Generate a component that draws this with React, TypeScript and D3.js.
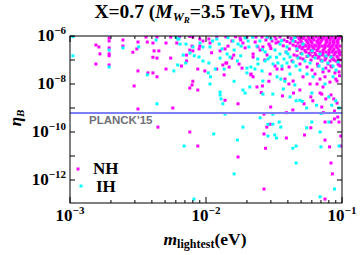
import { useEffect, useRef } from "react";
import * as d3 from "d3";

// [m_lightest (eV), eta_B]
const nhPoints: [number, number][] = [
  [1.94e-3, 8.2e-7], [1.94e-3, 6.2e-7], [1.55e-3, 4.2e-7], [1.63e-3, 3.5e-7], [1.66e-3, 1.8e-7],
  [1.55e-3, 6.8e-8], [1.94e-3, 3.2e-7], [1.94e-3, 1.8e-7], [1.94e-3, 1.5e-7], [1.94e-3, 6.2e-8],
  [2.45e-3, 6.8e-7], [2.45e-3, 3.8e-7], [3.16e-3, 5.6e-7], [3.1e-3, 2.9e-7], [2.9e-3, 2.1e-7],
  [3.62e-3, 9.1e-7], [3.7e-3, 5.6e-7], [4.07e-3, 5.1e-7], [4.36e-3, 9.1e-7], [4.15e-3, 2.4e-7],
  [4.07e-3, 1.3e-7], [4.5e-3, 2.4e-7], [4.36e-3, 1.2e-7], [3.16e-3, 3.5e-8], [3.74e-3, 2.9e-8],
  [4.07e-3, 2.9e-8], [4.36e-3, 2.0e-8], [2.96e-3, 8.3e-9], [3.16e-3, 9.1e-10],
  [5.08e-3, 5.1e-7], [5.5e-3, 1.2e-7], [5.08e-3, 4.2e-8], [6.1e-3, 5.1e-7], [6.6e-3, 5.6e-8],
  [7.2e-3, 1.6e-7], [7.2e-3, 9.1e-8], [7.6e-3, 2.6e-7], [8.0e-3, 1.3e-8], [7.9e-3, 9.1e-9],
  [7.6e-3, 6.8e-9], [8.7e-3, 5.6e-9], [5.7e-3, 1.0e-9], [8.7e-3, 4.2e-8], [9.8e-3, 3.5e-8],
  [8.9e-3, 2.9e-7], [1.33e-2, 6.2e-8], [1.4e-2, 7.5e-8], [1.36e-2, 2.4e-8], [1.48e-2, 5.1e-8],
  [1.38e-2, 2.1e-9], [1.72e-2, 1.5e-9], [1.84e-2, 4.6e-8], [2.14e-2, 2.4e-8], [1.75e-2, 6.8e-8],
  [1.55e-2, 1.2e-7], [1.78e-2, 8.2e-7], [1.8e-2, 6.8e-7], [1.87e-2, 5.1e-7], [1.94e-2, 3.2e-7],
  [1.55e-2, 6.2e-7], [1.45e-2, 3.8e-7], [1.38e-2, 2.9e-7], [1.27e-2, 2.4e-7], [1.07e-2, 5.1e-7],
  [1.05e-2, 7.5e-7], [9.5e-3, 6.2e-7], [9.0e-3, 7.5e-7], [8.0e-3, 9.1e-7], [7.6e-3, 9.6e-7],
  [5.5e-3, 9.1e-7], [6.4e-3, 9.6e-7], [8.0e-3, 2.4e-7], [7.9e-3, 3.8e-7], [9.0e-3, 3.8e-7],
  [1.2e-2, 4.2e-8], [1.42e-2, 7.5e-8],
  [7.6e-3, 1.0e-10], [8.7e-3, 2.6e-11], [4.43e-3, 1.6e-10], [1.72e-2, 9.1e-12],
  [2.67e-2, 8.3e-11], [2.8e-2, 1.6e-10], [2.96e-2, 2.1e-10], [2.74e-2, 2.1e-11], [3.9e-2, 5.6e-11],
  [5.3e-2, 7.5e-11], [5.9e-2, 1.5e-10], [7.5e-2, 2.6e-10], [7.5e-2, 4.6e-11], [8.1e-2, 2.4e-11],
  [8.3e-2, 2.6e-10], [8.8e-2, 3.5e-10], [9.5e-2, 2.6e-10], [9.8e-2, 6.8e-11], [9.8e-2, 2.6e-11],
  [8.3e-2, 5.1e-12], [8.5e-2, 1.8e-12], [2.67e-2, 4.2e-13], [7.5e-2, 1.6e-13],
  [2.37e-2, 7.5e-9], [2.6e-2, 8.3e-9], [2.55e-2, 4.4e-9], [2.9e-2, 1.3e-8], [2.99e-2, 1.1e-9],
  [2.67e-2, 5.6e-10], [3.9e-2, 6.4e-10], [4.35e-2, 8.3e-10], [3.65e-2, 3.2e-9], [4.4e-2, 4.2e-9],
  [4.07e-2, 1.0e-8], [4.9e-2, 5.6e-9], [5.26e-2, 1.5e-9], [5.9e-2, 2.9e-9], [6.1e-2, 2.0e-9],
  [6.9e-2, 4.2e-9], [7.1e-2, 3.8e-9], [7.1e-2, 1.1e-9], [7.3e-2, 6.4e-10], [7.6e-2, 2.4e-9],
  [8.3e-2, 3.5e-9], [8.7e-2, 2.4e-9], [9.2e-2, 1.6e-9], [8.8e-2, 7.5e-10], [9.3e-2, 4.2e-10],
  [2.14e-2, 2.6e-8], [2.22e-2, 2.0e-8], [3.22e-2, 5.6e-8], [3.33e-2, 4.2e-8], [3.62e-2, 4.2e-8],
  [4.08e-2, 5.1e-8], [4.29e-2, 9.1e-8], [4.67e-2, 1.47e-7], [4.91e-2, 6.8e-8], [5.17e-2, 1.1e-7],
  [5.53e-2, 5.1e-8], [6.02e-2, 3.8e-8], [6.33e-2, 2.6e-8], [6.89e-2, 1.6e-8], [7.5e-2, 2.0e-8],
  [8.02e-2, 3.5e-8], [8.88e-2, 2.9e-8], [9.19e-2, 1.33e-8], [8.16e-2, 1.2e-8], [7.25e-2, 7.5e-9],
  [6.55e-2, 1.0e-8], [5.82e-2, 1.0e-8], [5.17e-2, 2.0e-8], [4.37e-2, 1.33e-8], [3.81e-2, 1.6e-8],
  [2.96e-2, 2.6e-8], [7.0e-2, 1.0e-7], [8.6e-2, 1.1e-7], [9.5e-2, 6.2e-8], [8.4e-2, 5.1e-8],
  [7.6e-2, 4.6e-8], [9.0e-2, 1.6e-8], [6.6e-2, 6.8e-8], [9.6e-2, 2.2e-8],
  [2.33e-2, 9.1e-7], [2.76e-2, 6.8e-7], [3.06e-2, 6.2e-7], [2.9e-2, 4.6e-7], [2.62e-2, 3.5e-7],
  [2.41e-2, 3.5e-7], [2.22e-2, 1.78e-7], [2.22e-2, 1.33e-7], [2.81e-2, 1.62e-7], [3.27e-2, 7.5e-7],
  [2.3e-2, 5.6e-7], [2.5e-2, 2.6e-7], [3.0e-2, 3.0e-7], [3.4e-2, 5.6e-7], [3.2e-2, 9.6e-7],
  [3.7e-2, 3.9e-7], [4.1e-2, 2.9e-7], [2.0e-2, 9.3e-7], [1.65e-2, 9.3e-7], [1.4e-2, 9.3e-7],
  [1.2e-2, 9.3e-7], [1.1e-2, 2.0e-7], [1.6e-2, 1.6e-7], [2.7e-2, 1.0e-7],
  // dense corner, top right
  [2.58e-2, 9.1e-7], [2.86e-2, 9.1e-7], [3.5e-2, 9.1e-7], [4.01e-2, 9.1e-7], [4.59e-2, 9.1e-7],
  [4.91e-2, 9.1e-7], [5.26e-2, 9.1e-7], [5.62e-2, 9.1e-7], [6.02e-2, 9.1e-7], [6.44e-2, 9.1e-7],
  [6.89e-2, 9.1e-7], [7.38e-2, 9.1e-7], [7.89e-2, 9.1e-7], [8.44e-2, 9.1e-7], [9.04e-2, 9.1e-7],
  [9.67e-2, 9.1e-7],
  [4.22e-2, 7.9e-7], [4.83e-2, 7.9e-7], [5.17e-2, 7.9e-7], [5.72e-2, 7.9e-7], [6.12e-2, 7.9e-7],
  [6.78e-2, 7.9e-7], [7.25e-2, 7.9e-7], [7.76e-2, 7.9e-7], [8.3e-2, 7.9e-7], [8.88e-2, 7.9e-7],
  [9.51e-2, 7.9e-7],
  [3.75e-2, 6.8e-7], [4.29e-2, 6.8e-7], [4.91e-2, 6.8e-7], [5.43e-2, 6.8e-7], [5.82e-2, 6.8e-7],
  [6.22e-2, 6.8e-7], [6.66e-2, 6.8e-7], [7.13e-2, 6.8e-7], [7.63e-2, 6.8e-7], [8.16e-2, 6.8e-7],
  [8.73e-2, 6.8e-7], [9.35e-2, 6.8e-7],
  [3.94e-2, 5.9e-7], [4.52e-2, 5.9e-7], [5.0e-2, 5.9e-7], [5.53e-2, 5.9e-7], [5.92e-2, 5.9e-7],
  [6.55e-2, 5.9e-7], [7.0e-2, 5.9e-7], [7.76e-2, 5.9e-7], [8.59e-2, 5.9e-7], [9.19e-2, 5.9e-7],
  [3.27e-2, 5.1e-7], [4.15e-2, 5.1e-7], [4.75e-2, 5.1e-7], [5.08e-2, 5.1e-7], [5.62e-2, 5.1e-7],
  [6.02e-2, 5.1e-7], [6.66e-2, 5.1e-7], [6.89e-2, 5.1e-7], [7.63e-2, 5.1e-7], [8.16e-2, 5.1e-7],
  [8.73e-2, 5.1e-7], [9.35e-2, 5.1e-7],
  [4.37e-2, 4.2e-7], [5.34e-2, 4.2e-7], [5.72e-2, 4.2e-7], [6.33e-2, 4.2e-7], [6.78e-2, 4.2e-7],
  [7.5e-2, 4.2e-7], [8.02e-2, 4.2e-7], [8.59e-2, 4.2e-7], [9.19e-2, 4.2e-7],
  [2.96e-2, 3.8e-7], [4.59e-2, 3.8e-7], [4.91e-2, 3.8e-7], [5.43e-2, 3.8e-7], [6.02e-2, 3.8e-7],
  [6.44e-2, 3.8e-7], [7.13e-2, 3.8e-7], [7.89e-2, 3.8e-7], [8.44e-2, 3.8e-7], [9.04e-2, 3.8e-7],
  [9.67e-2, 3.8e-7],
  [4.83e-2, 3.4e-7], [5.17e-2, 3.4e-7], [5.72e-2, 3.4e-7], [6.12e-2, 3.4e-7], [6.78e-2, 3.4e-7],
  [7.5e-2, 3.4e-7], [8.3e-2, 3.4e-7], [9.19e-2, 3.4e-7],
  [5.08e-2, 2.9e-7], [5.62e-2, 2.9e-7], [6.22e-2, 2.9e-7], [6.66e-2, 2.9e-7], [7.38e-2, 2.9e-7],
  [8.16e-2, 2.9e-7], [8.73e-2, 2.9e-7], [9.35e-2, 2.9e-7],
  [4.67e-2, 2.5e-7], [5.34e-2, 2.5e-7], [5.92e-2, 2.5e-7], [6.55e-2, 2.5e-7], [7.25e-2, 2.5e-7],
  [8.02e-2, 2.5e-7], [8.59e-2, 2.5e-7], [9.51e-2, 2.5e-7],
  [3.88e-2, 2.15e-7], [5.43e-2, 2.15e-7], [6.02e-2, 2.15e-7], [6.89e-2, 2.15e-7], [7.63e-2, 2.15e-7],
  [8.44e-2, 2.15e-7], [9.04e-2, 2.15e-7], [9.67e-2, 2.15e-7],
  [5.0e-2, 1.9e-7], [5.72e-2, 1.9e-7], [6.33e-2, 1.9e-7], [7.25e-2, 1.9e-7], [8.02e-2, 1.9e-7],
  [8.88e-2, 1.9e-7], [9.51e-2, 1.9e-7],
  [4.44e-2, 1.62e-7], [5.82e-2, 1.62e-7], [6.44e-2, 1.62e-7], [7.13e-2, 1.62e-7], [7.89e-2, 1.62e-7],
  [8.73e-2, 1.62e-7], [9.67e-2, 1.62e-7],
  [5.53e-2, 1.4e-7], [6.12e-2, 1.4e-7], [6.78e-2, 1.4e-7], [7.5e-2, 1.4e-7], [8.3e-2, 1.4e-7],
  [9.19e-2, 1.4e-7],
  [4.91e-2, 1.21e-7], [6.66e-2, 1.21e-7], [7.63e-2, 1.21e-7], [8.44e-2, 1.21e-7], [9.35e-2, 1.21e-7],
  [5.92e-2, 1.0e-7], [7.5e-2, 1.0e-7], [8.73e-2, 1.0e-7], [9.67e-2, 1.0e-7],
  [7.13e-2, 9.1e-8], [8.16e-2, 9.1e-8], [9.04e-2, 9.1e-8], [7.89e-2, 6.8e-8], [9.35e-2, 6.8e-8],
  [6.66e-2, 5.6e-8], [8.3e-2, 5.6e-8], [9.67e-2, 5.6e-8], [7.25e-2, 3.2e-8], [9.51e-2, 3.2e-8],
];

const ihPoints: [number, number][] = [
  [1.05e-3, 9.4e-7], [1.05e-3, 1.5e-7], [1.94e-3, 5.1e-8], [1.94e-3, 2.6e-7], [2.45e-3, 3.2e-7],
  [3.2e-3, 3.5e-7], [3.7e-3, 2.4e-8], [4.3e-3, 6.8e-7], [4.36e-3, 1.5e-9],
  [5.8e-3, 3.5e-8], [6.2e-3, 7.5e-7], [6.2e-3, 6.2e-8], [6.8e-3, 1.6e-7], [7.1e-3, 7.5e-8],
  [8.2e-3, 1.5e-7], [9.5e-3, 9.1e-8], [1.05e-2, 7.5e-8], [1.17e-2, 4.2e-8], [1.04e-2, 2.9e-8],
  [1.08e-2, 2.0e-8], [1.07e-2, 1.0e-8], [1.27e-2, 1.2e-7], [1.36e-2, 4.2e-8], [1.27e-2, 4.6e-9],
  [1.27e-2, 3.5e-9], [1.29e-2, 2.4e-9], [1.33e-2, 1.5e-9], [1.61e-2, 1.3e-8], [1.87e-2, 5.6e-9],
  [1.94e-2, 4.2e-9], [2.1e-2, 7.5e-9], [2.0e-2, 4.6e-8], [2.0e-2, 2.9e-8], [1.7e-2, 9.1e-8],
  [1.38e-2, 5.6e-10],
  [6.9e-3, 2.6e-11], [1.14e-2, 8.3e-11], [1.87e-2, 1.6e-10], [1.7e-2, 4.6e-11], [1.61e-2, 1.8e-12],
  [8.15e-3, 1.6e-13],
  [2.5e-2, 3.9e-10], [2.85e-2, 6.8e-11], [2.85e-2, 2.1e-10], [3.1e-2, 2.1e-10], [3.2e-2, 7.5e-11],
  [3.3e-2, 5.6e-11], [3.45e-2, 2.6e-10], [3.55e-2, 1.6e-10], [4.35e-2, 2.1e-11], [4.6e-2, 2.6e-11],
  [4.6e-2, 5.1e-12], [5.5e-2, 1.5e-10], [6.0e-2, 2.6e-10], [6.9e-2, 1.0e-10], [7.0e-2, 2.4e-11],
  [8.0e-2, 2.6e-10], [9.5e-2, 2.6e-11], [6.9e-2, 2.0e-13], [8.8e-2, 4.2e-13],
  [2.62e-2, 3.8e-9], [3.1e-2, 3.8e-9], [3.1e-2, 5.6e-10], [3.7e-2, 6.2e-9], [4.15e-2, 2.9e-9],
  [3.8e-2, 1.3e-8], [3.55e-2, 1.6e-8], [4.5e-2, 9.1e-9], [4.6e-2, 2.0e-9], [4.9e-2, 2.1e-9],
  [5.1e-2, 1.9e-9], [5.5e-2, 1.0e-9], [6.0e-2, 4.2e-9], [6.5e-2, 1.3e-9], [7.0e-2, 6.0e-10],
  [8.0e-2, 2.9e-9], [8.4e-2, 1.3e-9], [9.0e-2, 2.0e-9], [9.5e-2, 1.0e-9],
  [2.14e-2, 5.1e-8], [2.29e-2, 4.2e-8], [2.41e-2, 6.8e-8], [2.58e-2, 3.5e-8], [2.72e-2, 9.1e-8],
  [2.96e-2, 1.33e-7], [3.11e-2, 6.8e-8], [3.38e-2, 7.5e-8], [3.62e-2, 5.6e-8], [3.94e-2, 7.5e-8],
  [4.15e-2, 1.33e-7], [4.37e-2, 8.25e-8], [4.75e-2, 1.21e-7], [5.08e-2, 1.78e-7], [5.34e-2, 9.1e-8],
  [5.82e-2, 7.5e-8], [6.33e-2, 1.21e-7], [6.78e-2, 5.6e-8], [7.25e-2, 4.2e-8], [7.89e-2, 7.5e-8],
  [8.59e-2, 5.6e-8], [9.35e-2, 8.25e-8], [2.49e-2, 6.2e-7], [2.37e-2, 3.8e-7], [2.81e-2, 9.1e-7],
  [3.5e-2, 4.6e-7], [3.94e-2, 3.5e-7], [4.37e-2, 6.2e-7], [4.67e-2, 2.9e-7], [5.17e-2, 4.6e-7],
  [6.02e-2, 2.4e-7], [6.89e-2, 1.78e-7], [8.3e-2, 1.33e-7], [5.53e-2, 2.6e-8], [6.12e-2, 2.0e-8],
  [4.15e-2, 2.6e-8], [3.33e-2, 2.0e-8], [2.62e-2, 1.33e-8], [7.5e-2, 1.0e-8], [8.59e-2, 2.0e-8],
  [2.86e-2, 1.1e-7], [3.75e-2, 1.1e-7], [4.59e-2, 5.6e-8], [5.62e-2, 1.47e-7], [7.13e-2, 9.1e-8],
  [7.63e-2, 1.47e-7], [9.04e-2, 3.8e-8], [4.91e-2, 3.8e-8], [3.5e-2, 1.78e-7], [3.88e-2, 2.15e-7],
  [3.22e-2, 2.6e-7], [2.72e-2, 2.15e-7],
  [2.2e-2, 9.0e-7], [1.45e-2, 8.5e-7], [3.0e-2, 7.6e-7], [3.6e-2, 6.4e-7], [4.5e-2, 8.6e-7],
  [2.6e-2, 2.7e-7], [3.3e-2, 1.3e-7], [2.4e-2, 1.1e-7], [1.8e-2, 1.5e-7], [4.0e-2, 1.8e-7],
  [1.07e-2, 3.5e-7], [1.12e-2, 6.2e-7], [1.2e-2, 7.5e-7], [1.25e-2, 4.6e-7], [1.31e-2, 2.9e-7],
  [1.43e-2, 1.78e-7], [1.5e-2, 1.33e-7], [1.58e-2, 6.2e-7], [1.72e-2, 4.6e-7], [1.81e-2, 3.8e-7],
  [1.94e-2, 8.25e-7], [2.04e-2, 6.2e-7], [2.07e-2, 3.5e-7], [1.61e-2, 2.6e-7], [6.32e-3, 7.5e-7],
  [7.13e-3, 4.6e-7], [7.63e-3, 1.96e-7], [8.88e-3, 1.33e-7], [9.5e-3, 3.5e-7], [9.04e-3, 5.1e-7],
  [8.02e-3, 3.5e-7], [6.44e-3, 4.6e-7], [6.01e-3, 9.1e-7],
];

const xTickValues = [1e-3, 1e-2, 1e-1];
const xTickExponents = ["\u22123", "\u22122", "\u22121"];
const yDecades = [1e-6, 1e-7, 1e-8, 1e-9, 1e-10, 1e-11, 1e-12];
const yTickValues = [1e-6, 1e-8, 1e-10, 1e-12];
const yTickExponents = ["\u22126", "\u22128", "\u221210", "\u221212"];
const planckEta = 6.2e-10;
const legendLabels = ["NH", "IH"];
const seriesColors = ["#ff00ff", "#00ffff"];

export default function App() {
  const svgRef = useRef<SVGSVGElement>(null);

  useEffect(() => {
    const width = 360;
    const height = 255;
    const left = 70;
    const right = 342;
    const top = 36;
    const bottom = 203;
    const serif = "'Liberation Serif', 'Times New Roman', serif";

    const svg = d3.select(svgRef.current).attr("width", width).attr("height", height);
    svg.selectAll("*").remove();

    const xScale = d3.scaleLog().domain([1e-3, 1e-1]).range([left, right]);
    const yScale = d3.scaleLog().domain([1.1e-13, 1e-6]).range([bottom, top]);

    svg.append("rect").attr("width", width).attr("height", height).attr("fill", "#fff");

    // clip for the scatter
    svg
      .append("clipPath")
      .attr("id", "plotClip")
      .append("rect")
      .attr("x", left)
      .attr("y", top)
      .attr("width", right - left)
      .attr("height", bottom - top);

    const pts = svg.append("g").attr("clip-path", "url(#plotClip)");
    [nhPoints, ihPoints].forEach((series, i) => {
      pts
        .append("g")
        .selectAll("rect")
        .data(series)
        .join("rect")
        .attr("x", (d) => xScale(d[0]) - 1.5)
        .attr("y", (d) => yScale(d[1]) - 1.5)
        .attr("width", 3)
        .attr("height", 3)
        .attr("fill", seriesColors[i]);
    });

    // planck line
    svg
      .append("line")
      .attr("x1", left)
      .attr("x2", right)
      .attr("y1", yScale(planckEta))
      .attr("y2", yScale(planckEta))
      .attr("stroke", "#7f7ff5")
      .attr("stroke-width", 2);

    svg
      .append("text")
      .attr("x", 89)
      .attr("y", yScale(planckEta) + 11)
      .attr("font-family", "'Liberation Sans', Arial, sans-serif")
      .attr("font-weight", "bold")
      .attr("font-size", 11.5)
      .attr("fill", "#70707a")
      .text("PLANCK'15");

    // frame
    svg
      .append("rect")
      .attr("x", left)
      .attr("y", top)
      .attr("width", right - left)
      .attr("height", bottom - top)
      .attr("fill", "none")
      .attr("stroke", "#000")
      .attr("stroke-width", 1);

    // x ticks, major + minor, bottom and top
    const xMinor: number[] = [];
    [1e-3, 1e-2].forEach((d) => {
      for (let k = 2; k <= 9; k++) xMinor.push(k * d);
    });
    const ticks = svg.append("g").attr("stroke", "#000").attr("stroke-width", 1);
    xTickValues.forEach((v) => {
      ticks.append("line").attr("x1", xScale(v)).attr("x2", xScale(v)).attr("y1", bottom).attr("y2", bottom - 6);
      ticks.append("line").attr("x1", xScale(v)).attr("x2", xScale(v)).attr("y1", top).attr("y2", top + 6);
    });
    xMinor.forEach((v) => {
      ticks.append("line").attr("x1", xScale(v)).attr("x2", xScale(v)).attr("y1", bottom).attr("y2", bottom - 3);
      ticks.append("line").attr("x1", xScale(v)).attr("x2", xScale(v)).attr("y1", top).attr("y2", top + 3);
    });
    yDecades.forEach((v) => {
      ticks.append("line").attr("x1", left).attr("x2", left + 5).attr("y1", yScale(v)).attr("y2", yScale(v));
      ticks.append("line").attr("x1", right).attr("x2", right - 5).attr("y1", yScale(v)).attr("y2", yScale(v));
    });

    // tick labels
    xTickValues.forEach((v, i) => {
      const t = svg
        .append("text")
        .attr("x", xScale(v))
        .attr("y", bottom + 18)
        .attr("text-anchor", "middle")
        .attr("font-family", serif)
        .attr("font-weight", "bold")
        .attr("font-size", 17);
      t.append("tspan").text("10");
      t.append("tspan").attr("dy", -7).attr("font-size", 11).text(xTickExponents[i]);
    });
    yTickValues.forEach((v, i) => {
      const t = svg
        .append("text")
        .attr("x", left - 4)
        .attr("y", yScale(v) + 5)
        .attr("text-anchor", "end")
        .attr("font-family", serif)
        .attr("font-weight", "bold")
        .attr("font-size", 17);
      t.append("tspan").text("10");
      t.append("tspan").attr("dy", -7).attr("font-size", 11).text(yTickExponents[i]);
    });

    // title
    const title = svg
      .append("text")
      .attr("x", 204)
      .attr("y", 18)
      .attr("text-anchor", "middle")
      .attr("font-family", serif)
      .attr("font-weight", "bold")
      .attr("font-size", 19.5);
    title.append("tspan").text("X=0.7 (");
    title.append("tspan").attr("font-style", "italic").text("M");
    title.append("tspan").attr("font-style", "italic").attr("font-size", 12.5).attr("dy", 3).text("W");
    title.append("tspan").attr("font-style", "italic").attr("font-size", 9).attr("dy", 2).text("R");
    title.append("tspan").attr("dy", -5).text("=3.5 TeV), HM");

    // axis labels
    const xl = svg
      .append("text")
      .attr("x", 205)
      .attr("y", 245)
      .attr("text-anchor", "middle")
      .attr("font-family", serif)
      .attr("font-weight", "bold")
      .attr("font-size", 17.5);
    xl.append("tspan").attr("font-style", "italic").text("m");
    xl.append("tspan").attr("font-size", 12).attr("dy", 3).text("lightest");
    xl.append("tspan").attr("dy", -3).text("(eV)");

    const yl = svg
      .append("text")
      .attr("transform", "translate(21,118) rotate(-90)")
      .attr("text-anchor", "middle")
      .attr("font-family", serif)
      .attr("font-weight", "bold")
      .attr("font-style", "italic")
      .attr("font-size", 17);
    yl.append("tspan").text("\u03b7");
    yl.append("tspan").attr("font-size", 11).attr("dy", 3).text("B");

    // legend
    legendLabels.forEach((label, i) => {
      svg
        .append("rect")
        .attr("x", 78 + i * 3 - 1.5)
        .attr("y", 169 + i * 17 - 1.5)
        .attr("width", 3)
        .attr("height", 3)
        .attr("fill", seriesColors[i]);
      svg
        .append("text")
        .attr("x", i === 0 ? 93 : 96)
        .attr("y", 174 + i * 18)
        .attr("font-family", serif)
        .attr("font-weight", "bold")
        .attr("font-size", 17)
        .text(label);
    });
  }, []);

  return (
    <svg
      ref={svgRef}
      style={{ position: "absolute", left: 0, top: 0, display: "block" }}
    ></svg>
  );
}
